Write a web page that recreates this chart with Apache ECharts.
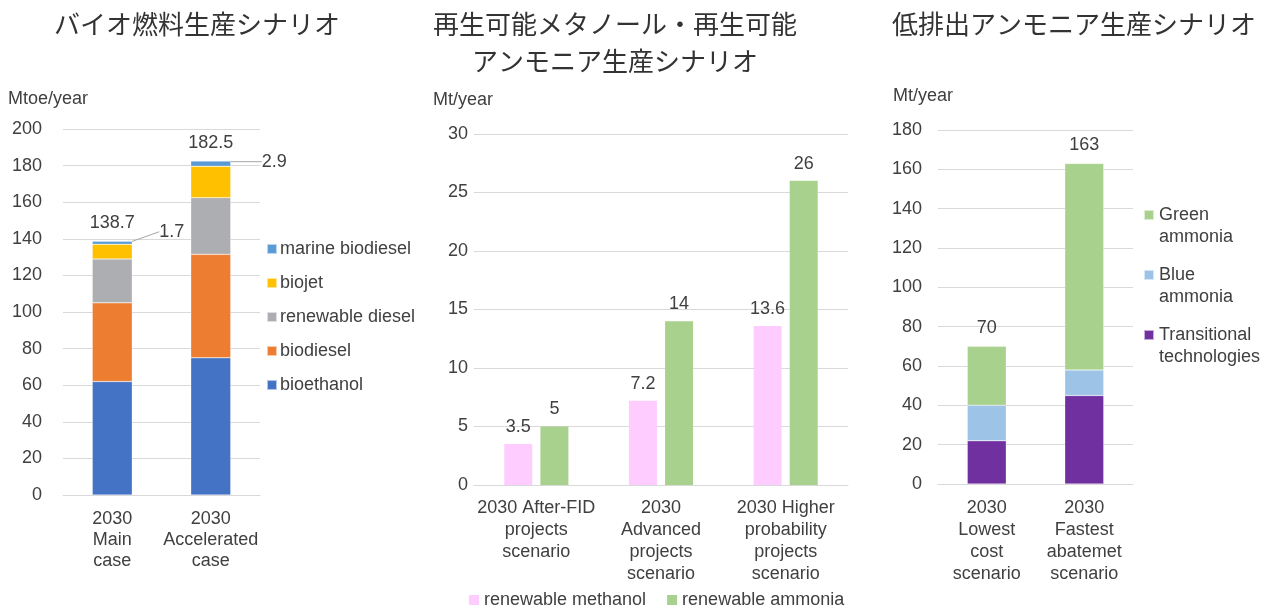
<!DOCTYPE html>
<html>
<head>
<meta charset="utf-8">
<script src="https://cdn.jsdelivr.net/npm/echarts@6/dist/echarts.min.js"></script>
<style>
  html, body { margin: 0; padding: 0; background: #ffffff; }
  #chart { width: 1274px; height: 608px; }
</style>
</head>
<body>
<div id="chart"></div>
<script>
// ---- Data: biofuel production scenario ----
const bioCategories = ['2030\nMain\ncase', '2030\nAccelerated\ncase'];
const bioethanol = [62, 75];
const biodiesel = [43, 56.5];
const renewableDiesel = [24, 31];
const biojet = [8, 17.1];
const marineBiodiesel = [1.7, 2.9];
const bioTotals = [138.7, 182.5];
const bioTicks = [0, 200, 20];

// ---- Data: renewable methanol / ammonia scenario ----
const synCategories = ['2030 After-FID\nprojects\nscenario', '2030\nAdvanced\nprojects\nscenario', '2030 Higher\nprobability\nprojects\nscenario'];
const renewableMethanol = [3.5, 7.2, 13.6];
const renewableAmmonia = [5, 14, 26];
const synTicks = [0, 30, 5];

// ---- Data: low-emission ammonia scenario ----
const ammCategories = ['2030\nLowest\ncost\nscenario', '2030\nFastest\nabatemet\nscenario'];
const transitionalTech = [22, 45];
const blueAmmonia = [18, 13];
const greenAmmonia = [30, 105];
const ammTotals = [70, 163];
const ammTicks = [0, 180, 20];

const FONT = "'Liberation Sans', Arial, sans-serif";
const TXT = '#404040';
const GRID = '#d9d9d9';

function yAxis(gridIndex, ticks, name, padLeft, nameGap, margin) {
  return {
    type: 'value', gridIndex: gridIndex, min: ticks[0], max: ticks[1], interval: ticks[2],
    name: name, nameLocation: 'end', nameGap: nameGap,
    nameTextStyle: { fontFamily: FONT, fontSize: 18, color: TXT, align: 'left', padding: [0, 0, 0, padLeft] },
    axisLine: { show: false }, axisTick: { show: false },
    axisLabel: { fontFamily: FONT, fontSize: 18, color: TXT, margin: margin },
    splitLine: { lineStyle: { color: GRID, width: 1 } }
  };
}
function xAxis(gridIndex, cats, margin, lh) {
  return {
    type: 'category', gridIndex: gridIndex, data: cats,
    axisLine: { show: true, lineStyle: { color: GRID } }, axisTick: { show: false },
    axisLabel: { fontFamily: FONT, fontSize: 18, color: TXT, margin: margin, lineHeight: lh, interval: 0 }
  };
}
function stackBar(name, data, color, xi, width) {
  return {
    name: name, type: 'bar', stack: 's' + xi, xAxisIndex: xi, yAxisIndex: xi,
    data: data, barWidth: width,
    itemStyle: { color: color, borderColor: 'rgba(255,255,255,0.6)', borderWidth: 0.5 }
  };
}

const labelStyle = { fontFamily: FONT, fontSize: 18, color: TXT };

const option = {
  backgroundColor: '#ffffff',
  animation: false,
  title: [
    { text: 'バイオ燃料生産シナリオ', left: 197, top: 6, textAlign: 'center', padding: 0,
      textStyle: { fontFamily: "'Noto Sans CJK JP', sans-serif", fontSize: 26, fontWeight: 'normal', color: '#333333', lineHeight: 37 } },
    { text: '再生可能メタノール・再生可能\nアンモニア生産シナリオ', left: 615, top: 6, textAlign: 'center', padding: 0,
      textStyle: { fontFamily: "'Noto Sans CJK JP', sans-serif", fontSize: 26, fontWeight: 'normal', color: '#333333', lineHeight: 37 } },
    { text: '低排出アンモニア生産シナリオ', left: 1074, top: 6, textAlign: 'center', padding: 0,
      textStyle: { fontFamily: "'Noto Sans CJK JP', sans-serif", fontSize: 26, fontWeight: 'normal', color: '#333333', lineHeight: 37 } }
  ],
  grid: [
    { left: 63, top: 129, width: 197, height: 366 },
    { left: 474, top: 134, width: 374, height: 351 },
    { left: 938, top: 130, width: 195, height: 354 }
  ],
  legend: [
    { data: ['marine biodiesel', 'biojet', 'renewable diesel', 'biodiesel', 'bioethanol'],
      orient: 'vertical', left: 266, top: 239, itemWidth: 10, itemHeight: 10, itemGap: 14,
      icon: 'rect', textStyle: { fontFamily: FONT, fontSize: 18, color: TXT, lineHeight: 20, padding: [0, 0, 0, -2] }, padding: 0 },
    { data: ['renewable methanol', 'renewable ammonia'],
      orient: 'horizontal', left: 469, top: 590, itemWidth: 10, itemHeight: 10, itemGap: 21,
      icon: 'rect', textStyle: { fontFamily: FONT, fontSize: 18, color: TXT, lineHeight: 20 }, padding: 0 },
    { data: ['Green ammonia', 'Blue ammonia', 'Transitional technologies'],
      orient: 'vertical', left: 1143, top: 182, itemWidth: 10, itemHeight: 10, itemGap: -6,
      icon: 'rect', formatter: function (n) { return ' \n' + n.replace(' ', '\n'); },
      textStyle: { fontFamily: FONT, fontSize: 18, color: TXT, lineHeight: 22 }, padding: 0 }
  ],
  xAxis: [
    xAxis(0, bioCategories, 14, 21),
    xAxis(1, synCategories, 12, 22),
    xAxis(2, ammCategories, 13, 22)
  ],
  yAxis: [
    yAxis(0, bioTicks, 'Mtoe/year', -55, 21, 21),
    yAxis(1, synTicks, 'Mt/year', -41, 25, 6),
    yAxis(2, ammTicks, 'Mt/year', -45, 25, 16)
  ],
  series: [
    stackBar('bioethanol', bioethanol, '#4472C4', 0, 40),
    stackBar('biodiesel', biodiesel, '#ED7D31', 0, 40),
    stackBar('renewable diesel', renewableDiesel, '#ADAEB1', 0, 40),
    stackBar('biojet', biojet, '#FFC000', 0, 40),
    Object.assign(stackBar('marine biodiesel', marineBiodiesel, '#5B9BD5', 0, 40), {
      label: Object.assign({ show: true, position: 'right', formatter: '{c}' }, labelStyle),
      labelLayout: function (p) { return p.dataIndex === 0 ? { dx: 22, dy: -11 } : { dx: 26, dy: -2 }; },
      labelLine: { show: true, lineStyle: { color: '#a6a6a6', width: 1 } }
    }),
    Object.assign(stackBar('total-bio', bioTotals.map(function () { return 0; }), 'transparent', 0, 40), {
      label: Object.assign({ show: true, position: 'top', distance: 9,
        formatter: function (p) { return bioTotals[p.dataIndex].toFixed(1); } }, labelStyle),
      itemStyle: { color: 'transparent', borderWidth: 0 }, tooltip: { show: false }
    }),
    { name: 'renewable methanol', type: 'bar', xAxisIndex: 1, yAxisIndex: 1, data: renewableMethanol,
      barWidth: 28, barGap: '29%', itemStyle: { color: '#FFCCFF' },
      label: Object.assign({ show: true, position: 'top', distance: 8 }, labelStyle) },
    { name: 'renewable ammonia', type: 'bar', xAxisIndex: 1, yAxisIndex: 1, data: renewableAmmonia,
      barWidth: 28, barGap: '29%', itemStyle: { color: '#A9D18E' },
      label: Object.assign({ show: true, position: 'top', distance: 8 }, labelStyle) },
    stackBar('Transitional technologies', transitionalTech, '#7030A0', 2, 39),
    stackBar('Blue ammonia', blueAmmonia, '#9DC3E6', 2, 39),
    Object.assign(stackBar('Green ammonia', greenAmmonia, '#A9D18E', 2, 39), {
      label: Object.assign({ show: true, position: 'top', distance: 9,
        formatter: function (p) { return String(ammTotals[p.dataIndex]); } }, labelStyle)
    })
  ]
};

const chart = echarts.init(document.getElementById('chart'), null, { renderer: 'canvas' });
chart.setOption(option);
</script>
</body>
</html>
